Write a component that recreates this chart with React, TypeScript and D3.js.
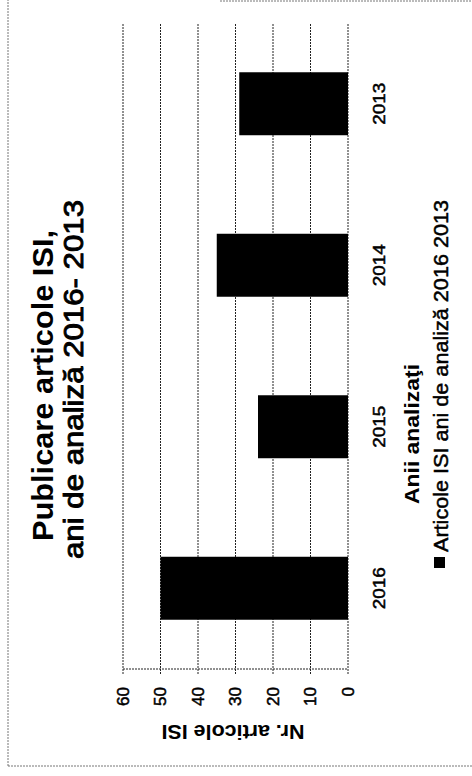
import React from "react";
import * as d3 from "d3";

const categories = ["2016", "2015", "2014", "2013"];
const values = [50, 24, 35, 29];
const yTicks = [0, 10, 20, 30, 40, 50, 60];
const titleLine1 = "Publicare articole ISI,";
const titleLine2 = "ani de analiză 2016- 2013";
const xTitle = "Anii analizaţi";
const yTitle = "Nr. articole ISI";
const legendLabel = "Articole ISI ani de analiză 2016 2013";

const PAGE_W = 472;
const PAGE_H = 776;

export default function App() {
  // Chart drawn in its original (landscape) frame, then rotated -90° onto the page.
  const x = d3
    .scaleBand<string>()
    .domain(categories)
    .range([107, 753])
    .paddingInner(0.61)
    .paddingOuter(0.305);
  const y = d3.scaleLinear().domain([0, 60]).range([348, 123]);
  const sans = "'Liberation Sans', Arial, sans-serif";
  const grid = { stroke: "#222", strokeWidth: 1, strokeDasharray: "2,1" };
  const frame = { stroke: "#777", strokeWidth: 1, strokeDasharray: "2,1" };
  const ink = { stroke: "#000", strokeWidth: 0.5 };

  return (
    <svg
      width={PAGE_W}
      height={PAGE_H}
      style={{ position: "absolute", left: 0, top: 0, background: "#fff" }}
    >
      <rect x={0} y={0} width={PAGE_W} height={PAGE_H} fill="#fff" />
      <g transform={`translate(0,${PAGE_H}) rotate(-90)`}>
        {/* outer frame */}
        <line x1={10} x2={776} y1={8} y2={8} {...frame} />
        <line x1={10} x2={10} y1={8} y2={472} {...frame} />
        <line x1={775} x2={775} y1={220} y2={472} {...frame} />

        {/* title */}
        <text
          x={235}
          y={53}
          fontFamily={sans}
          fontWeight="bold"
          fontSize={30}
          textLength={311}
          lengthAdjust="spacingAndGlyphs"
        >
          {titleLine1}
        </text>
        <text
          x={217}
          y={83}
          fontFamily={sans}
          fontSize={28}
          textLength={359}
          lengthAdjust="spacingAndGlyphs"
          stroke="#000"
          strokeWidth={0.9}
        >
          {titleLine2}
        </text>

        {/* gridlines */}
        {yTicks.map((t) => (
          <line key={"g" + t} x1={102} x2={753} y1={y(t)} y2={y(t)} {...grid} />
        ))}
        {/* value axis line */}
        <line x1={107} x2={107} y1={y(60)} y2={y(0)} {...grid} />

        {/* tick labels */}
        {yTicks.map((t) => (
          <text
            key={"t" + t}
            x={89}
            y={y(t)}
            dy="0.35em"
            textAnchor="end"
            fontFamily={sans}
            fontSize={17}
            {...ink}
          >
            {t}
          </text>
        ))}

        {/* bars */}
        {categories.map((c, i) => (
          <rect
            key={c}
            x={x(c)}
            y={y(values[i])}
            width={x.bandwidth()}
            height={y(0) - y(values[i])}
            fill="#000"
          />
        ))}

        {/* category labels */}
        {categories.map((c) => (
          <text
            key={"c" + c}
            x={(x(c) as number) + x.bandwidth() / 2}
            y={385}
            textAnchor="middle"
            fontFamily={sans}
            fontSize={17}
            textLength={42}
            lengthAdjust="spacingAndGlyphs"
            {...ink}
          >
            {c}
          </text>
        ))}

        {/* axis titles */}
        <text
          x={342}
          y={419}
          textAnchor="middle"
          fontFamily={sans}
          fontWeight="bold"
          fontSize={21}
          textLength={140}
          lengthAdjust="spacingAndGlyphs"
        >
          {xTitle}
        </text>
        <text
          transform="translate(51,233) rotate(-90)"
          textAnchor="middle"
          fontFamily={sans}
          fontWeight="bold"
          fontSize={20}
          textLength={143}
          lengthAdjust="spacingAndGlyphs"
        >
          {yTitle}
        </text>

        {/* legend */}
        <rect x={208} y={434} width={11} height={11} fill="#000" />
        <text
          x={224}
          y={448}
          fontFamily={sans}
          fontSize={21}
          textLength={352}
          lengthAdjust="spacingAndGlyphs"
          {...ink}
        >
          {legendLabel}
        </text>
      </g>
    </svg>
  );
}
